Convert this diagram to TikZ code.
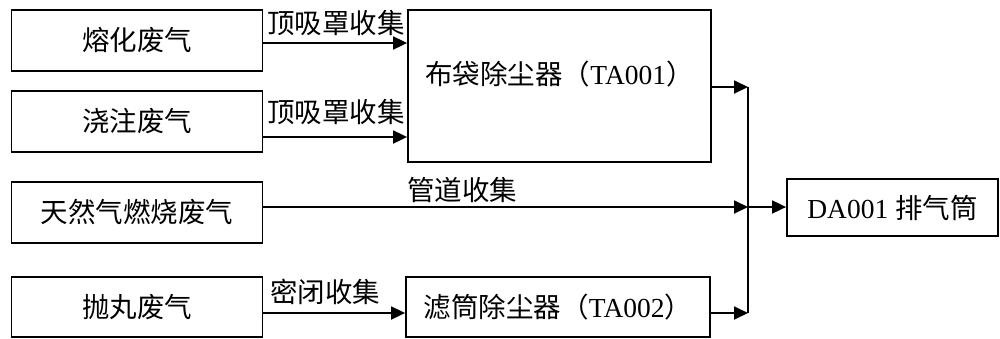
\documentclass[tikz,border=0pt]{standalone}
\usepackage{fontspec}
\setmainfont{Liberation Serif}
\newfontfamily\cjk{Noto Sans CJK SC}
\usetikzlibrary{arrows.meta}
\tikzset{
  box/.style={draw, line width=1.8pt, inner sep=0pt, font=\fontsize{27.5}{29}\selectfont},
  lbl/.style={inner sep=0pt, font=\fontsize{27.5}{29}\selectfont},
  arr/.style={line width=1.8pt, -{Triangle[length=14pt,width=13pt]}},
  ln/.style={line width=1.8pt}
}
\begin{document}
\begin{tikzpicture}[x=1pt,y=-1pt]
\useasboundingbox (0,0) rectangle (1000,338);
\node[box, minimum width=251pt, minimum height=61pt] (b1) at (137,40.5) {\cjk 熔化废气};
\node[box, minimum width=251pt, minimum height=61pt] (b2) at (137,121.5) {\cjk 浇注废气};
\node[box, minimum width=251pt, minimum height=61pt] (b3) at (137,212.5) {\cjk 天然气燃烧废气};
\node[box, minimum width=251pt, minimum height=60pt] (b4) at (137,307) {\cjk 抛丸废气};
\node[box, minimum width=303pt, minimum height=152pt] (ta1) at (559.5,86) {};
\node[lbl] (ta1t) at (559.5,74) {{\cjk 布袋除尘器（}TA001{\cjk ）}};
\node[box, minimum width=304pt, minimum height=60pt] (ta2) at (558,307) {{\cjk 滤筒除尘器（}TA002{\cjk ）}};
\node[box, minimum width=211pt, minimum height=57pt] (da) at (892.5,207.5) {DA001 {\cjk 排气筒}};
\coordinate (jt) at (748,87);
\coordinate (jm) at (748,207);
\coordinate (jb) at (748,313);
% arrows
\draw[arr] ([yshift=-2.5pt]b1.east) -- ([yshift=-2.5pt]b1.east -| ta1.west);
\draw[arr] ([yshift=-15.5pt]b2.east) -- ([yshift=-15.5pt]b2.east -| ta1.west);
\draw[arr] ([yshift=-1pt]ta1.east) -- (jt);
\draw[arr] (b3.east |- jm) -- (jm);
\draw[arr] ([yshift=-6pt]b4.east) -- ([yshift=-6pt]b4.east -| ta2.west);
\draw[arr] (ta2.east |- jb) -- (jb);
\draw[ln] (jt) -- (jb);
\draw[arr] (jm) -- (da.west |- jm);
% labels
\node[lbl] (l1) at (336,23) {\cjk 顶吸罩收集};
\node[lbl] (l2) at (336,112) {\cjk 顶吸罩收集};
\node[lbl] (l3) at (462,190) {\cjk 管道收集};
\node[lbl] (l4) at (325,292) {\cjk 密闭收集};
\end{tikzpicture}
\end{document}
